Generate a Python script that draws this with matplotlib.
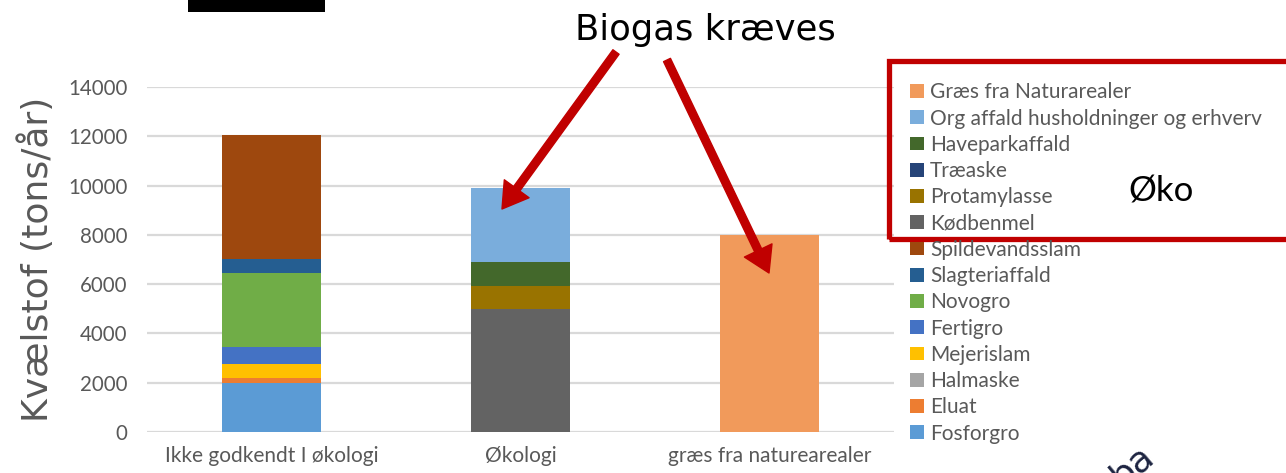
import matplotlib
matplotlib.use('Agg')
import matplotlib.pyplot as plt
from matplotlib.patches import Rectangle, Patch
import numpy as np

W, H = 1286, 473

categories = ['Ikke godkendt I økologi', 'Økologi', 'græs fra naturearealer']

# stack order bottom -> top
series_names = [
    'Fosforgro', 'Eluat', 'Halmaske', 'Mejerislam', 'Fertigro', 'Novogro',
    'Slagteriaffald', 'Spildevandsslam', 'Kødbenmel', 'Protamylasse',
    'Træaske', 'Haveparkaffald', 'Org affald husholdninger og erhverv',
    'Græs fra Naturarealer',
]
fosforgro       = [2000, 0, 0]
eluat           = [200, 0, 0]
halmaske        = [0, 0, 0]
mejerislam      = [570, 0, 0]
fertigro        = [680, 0, 0]
novogro         = [3000, 0, 0]
slagteriaffald  = [550, 0, 0]
spildevandsslam = [5050, 0, 0]
koedbenmel      = [0, 5000, 0]
protamylasse    = [0, 920, 0]
traeaske        = [0, 0, 0]
haveparkaffald  = [0, 970, 0]
org_affald      = [0, 3000, 0]
graes           = [0, 0, 8000]

series_values = [fosforgro, eluat, halmaske, mejerislam, fertigro, novogro,
                 slagteriaffald, spildevandsslam, koedbenmel, protamylasse,
                 traeaske, haveparkaffald, org_affald, graes]

series_colors = ['#5b9bd5', '#ed7d31', '#a5a5a5', '#ffc000', '#4472c4', '#70ad47',
                 '#255e91', '#9e480e', '#636363', '#997300', '#264478', '#43682b',
                 '#7aaddc', '#f19a5b']

yticks = [0, 2000, 4000, 6000, 8000, 10000, 12000, 14000]

TXT = '#595959'
RED = '#c00000'


def px(x, y):
    """pixel coords (top-left origin) -> figure fraction"""
    return x / W, 1 - y / H


fig = plt.figure(figsize=(W / 100, H / 100), dpi=100)
fig.patch.set_facecolor('white')

l, b = px(147, 432)
r, t = px(894, 87)
ax = fig.add_axes([l, b, r - l, t - b])

x = np.arange(len(categories))
bottom = np.zeros(len(categories))
for name, vals, col in zip(series_names, series_values, series_colors):
    vals = np.array(vals, dtype=float)
    ax.bar(x, vals, 0.4, bottom=bottom, color=col, label=name, zorder=3)
    bottom += vals

ax.set_xlim(-0.5, len(categories) - 0.5)
ax.set_ylim(0, 14000)
ax.set_yticks(yticks)
ax.set_yticklabels([str(v) for v in yticks], fontsize=14.8, color=TXT, family='Lato')
ax.set_xticks(x)
ax.set_xticklabels(categories, fontsize=15, color=TXT, family='Lato')
ax.tick_params(axis='y', length=0, pad=14)
ax.tick_params(axis='x', length=0, pad=10)
for s in ax.spines.values():
    s.set_visible(False)
ax.grid(axis='y', color='#d9d9d9', linewidth=1.6, zorder=0)
ax.set_axisbelow(True)
ax.set_ylabel('Kvælstof (tons/år)', fontsize=26, color=TXT, family='DejaVu Sans')
ax.yaxis.set_label_coords(-0.123, 0.5)

# legend (reversed order, like Excel)
handles = [Patch(facecolor=c, edgecolor='none') for c in series_colors][::-1]
labels = series_names[::-1]
leg = fig.legend(handles, labels, loc='upper left', bbox_to_anchor=px(902, 74),
                 frameon=False, prop={'family': 'Lato', 'size': 15},
                 handlelength=0.65, handleheight=0.65, handletextpad=0.3,
                 labelspacing=0.30, borderaxespad=0)
for txt in leg.get_texts():
    txt.set_color(TXT)

# red box with "Øko"
x0, y0 = px(889, 239)
x1, y1 = px(1300, 61)
fig.patches.append(Rectangle((x0, y0), x1 - x0, y1 - y0, transform=fig.transFigure,
                             fill=False, edgecolor=RED, linewidth=3.8, clip_on=False))
fig.text(*px(1161, 191), 'Øko', fontsize=25, color='black', family='Lato',
         ha='center', va='center')

# title and arrows
fig.text(*px(705, 30), 'Biogas kræves', fontsize=25.5, color='black', family='DejaVu Sans',
         ha='center', va='center')
arrow_kw = dict(arrowstyle='simple,head_width=2.2,head_length=1.8,tail_width=0.55',
                color=RED, shrinkA=0, shrinkB=0)
ax.annotate('', xy=px(502, 209), xycoords='figure fraction',
            xytext=px(616, 52), textcoords='figure fraction', arrowprops=arrow_kw,
            annotation_clip=False)
ax.annotate('', xy=px(769, 273), xycoords='figure fraction',
            xytext=px(667, 60), textcoords='figure fraction', arrowprops=arrow_kw,
            annotation_clip=False)

# black bar at top
bx0, by0 = px(188, 12)
bx1, by1 = px(325, 0)
fig.patches.append(Rectangle((bx0, by0), bx1 - bx0, by1 - by0, transform=fig.transFigure,
                             facecolor='black', edgecolor='none'))

# cut-off text bottom right (cut in the original too)
fig.text(*px(1132, 466), 'ba', fontsize=26, color='#1c2340', family='DejaVu Sans',
         rotation=40, ha='center', va='center')

fig.savefig('out.png', dpi=100, facecolor='white')
